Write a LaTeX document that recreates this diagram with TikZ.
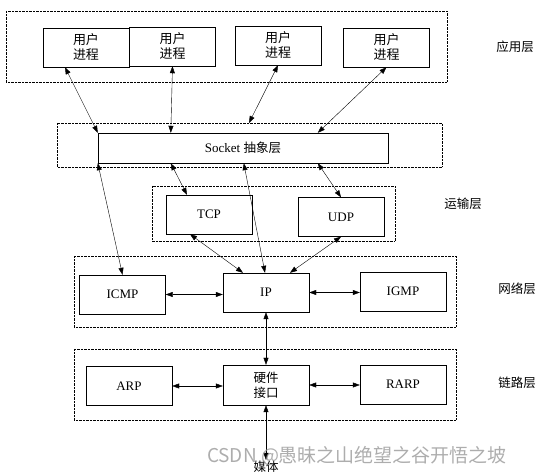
\documentclass[tikz,border=0pt]{standalone}
\usepackage{fontspec}
\setmainfont{Liberation Serif}
\newfontfamily\zh{Noto Sans CJK SC}
\usetikzlibrary{arrows.meta}
\tikzset{
  proc/.style={draw,thin,minimum width=86pt,minimum height=39pt,inner sep=0pt,
    align=center,font=\fontsize{13}{15}\selectfont},
  layer/.style={draw,densely dotted,thin},
  tag/.style={font=\zh\fontsize{12.5}{15}\selectfont},
  link/.style={thin,{Triangle[length=7pt,width=5pt]}-{Triangle[length=7pt,width=5pt]}}
}
\begin{document}
\begin{tikzpicture}[x=1pt,y=-1pt]
				\useasboundingbox (0,0) rectangle (542,476);
				
				% layer frames
				\draw[layer] (6,11) rectangle (447,82);
				\draw[layer] (57,123) rectangle (442,167);
				\draw[layer] (152,186) rectangle (395,241);
				\draw[layer] (74,256) rectangle (456,327);
				\draw[layer] (74,349) rectangle (456,420);
				
				\node[proc] (u1) at (86,47.5) {\zh 用户\\\zh 进程};
				\node[proc] (u2) at (172.5,46.5) {\zh 用户\\\zh 进程};
				\node[proc] (u3) at (278,45.5) {\zh 用户\\\zh 进程};
				\node[proc] (u4) at (386.5,47.5) {\zh 用户\\\zh 进程};
				\node[tag] (lapp) at (515,47) {应用层};
				
				\node[proc,minimum width=290pt,minimum height=30pt] (sock) at (243,148) {Socket {\zh\fontsize{12.5}{15}\selectfont 抽象层}};
				
				\node[proc] (tcp) at (209,214.5) {TCP};
				\node[proc] (udp) at (341,217) {UDP};
				\node[tag] (ltrans) at (463,204) {运输层};
				
				\node[proc] (icmp) at (122.5,294.5) {ICMP};
				\node[proc] (ip) at (266,292.5) {IP};
				\node[proc] (igmp) at (403,291.5) {IGMP};
				\node[tag] (lnet) at (517,289) {网络层};
				
				\node[proc] (arp) at (129,386) {ARP};
				\node[proc,minimum height=40pt] (hw) at (266,385) {\zh\fontsize{12.5}{15}\selectfont 硬件\\\zh\fontsize{12.5}{15}\selectfont 接口};
				\node[proc] (rarp) at (403,384.5) {RARP};
				\node[tag] (llink) at (517,383) {链路层};
				
				\node[tag,anchor=north,inner sep=1pt] (media) at (266,460) {媒体};
				\coordinate (s3) at (249,123);
				
				% connectors
				\draw[link] ([xshift=-21]u1.south) -- (sock.north west);
				\draw[link] (u2.south) -- ([xshift=73]sock.north west);
				\draw[link] (u3.south) -- (s3);
				\draw[link] (u4.south) -- ([xshift=220]sock.north west);
				
				\draw[link] ([xshift=73]sock.south west) -- ([xshift=-22]tcp.north);
				\draw[link] ([xshift=220]sock.south west) -- (udp.north);
				\draw[link] ([xshift=146]sock.south west) -- ([xshift=-1]ip.north);
				\draw[link] (sock.south west) -- (icmp.north);
				\draw[link] ([xshift=-19]tcp.south) -- ([xshift=-23]ip.north);
				\draw[link] (udp.south) -- ([xshift=24]ip.north);
				
				\draw[link] (icmp.east) -- (icmp.east -| ip.west);
				\draw[link] (ip.east) -- (ip.east -| igmp.west);
				\draw[link] (ip.south) -- (hw.north);
				\draw[link] (arp.east) -- (arp.east -| hw.west);
				\draw[link] (hw.east) -- (hw.east -| rarp.west);
				\draw[link] (hw.south) -- (media.north);
				
				\node[font=\zh\fontsize{19}{22}\selectfont,text=black!40,opacity=.8] (mark) at (357,456) {CSDN @愚昧之山绝望之谷开悟之坡};
\end{tikzpicture}
\end{document}
